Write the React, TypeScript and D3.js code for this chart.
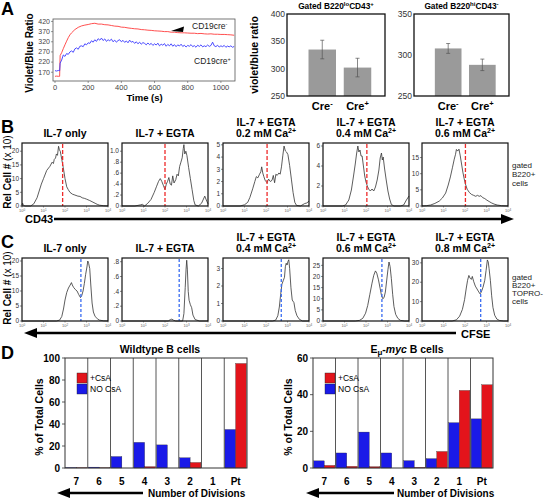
import React from "react";
import * as d3 from "d3";

const FONT = "'Liberation Sans', Arial, Helvetica, sans-serif";

// ---------------- Panel A : calcium flux ----------------
const fluxXTicks = [0, 200, 400, 600, 800, 1000];
const fluxYTicks = [170, 220, 270, 320, 370, 420];
const creNegFlux: [number, number][] = [
  [0,150],[10,151],[20,150],[28,150],[31,252],[40,266],[50,286],[60,305],[70,323],[80,340],[90,354],[100,364],[120,380],[140,391],[160,398],[180,402],[200,405],[220,409],[240,411],[260,407],[280,407],[300,404],[320,403],[340,400],[360,397],[380,396],[400,392],[420,391],[440,388],[460,386],[480,384],[500,383],[520,380],[540,379],[560,377],[580,376],[600,374],[620,373],[640,372],[660,370],[680,370],[700,367],[720,367],[740,365],[760,364],[780,364],[800,363],[820,362],[840,362],[860,360],[880,361],[900,359],[920,358],[940,359],[960,357],[980,357],[1000,356],[1020,356],[1040,355],[1060,354],[1080,352]
];
const crePosFlux: [number, number][] = [
  [0,178],[10,176],[20,179],[28,177],[31,215],[40,230],[50,255],[60,248],[70,262],[80,258],[90,270],[100,275],[110,268],[120,285],[130,290],[140,283],[150,298],[160,300],[170,296],[180,310],[190,305],[200,315],[210,312],[220,325],[230,318],[240,330],[250,322],[260,335],[270,328],[280,338],[290,326],[300,334],[310,322],[320,330],[330,325],[340,333],[350,320],[360,328],[370,318],[380,326],[390,330],[400,320],[410,327],[420,317],[430,324],[440,315],[450,328],[460,318],[470,322],[480,312],[490,320],[500,310],[510,318],[520,308],[530,316],[540,312],[550,305],[560,314],[570,306],[580,312],[590,302],[600,310],[610,304],[620,313],[630,300],[640,308],[650,303],[660,311],[670,298],[680,307],[690,300],[700,310],[710,298],[720,306],[730,296],[740,305],[750,299],[760,308],[770,297],[780,303],[790,294],[800,302],[810,298],[820,306],[830,296],[840,301],[850,293],[860,303],[870,297],[880,305],[890,295],[900,300],[910,296],[920,304],[930,297],[940,302],[950,318],[960,300],[970,296],[980,303],[990,294],[1000,300],[1010,296],[1020,302],[1030,293],[1040,299],[1050,295],[1060,300],[1070,293],[1080,297]
];

// ---------------- Panel A : ratio bars ----------------
const creCats = ["-", "+"];
const loMeans = [335, 302];
const loErrs = [17, 17];
const loTicks = [250, 300, 350, 400];
const hiMeans = [308, 288];
const hiErrs = [6, 7];
const hiTicks = [250, 300, 350];

// ---------------- Panel B : CD43 histograms ----------------
const bLine1 = ["IL-7 only", "IL-7 + EGTA", "IL-7 + EGTA", "IL-7 + EGTA", "IL-7 + EGTA"];
const bCa = [null, null, "0.2", "0.4", "0.6"];
const bMax = [23, 1.15, 5.15, 6.3, 19.5];
const bTicks = [[0,5,10,15,20],[0,0.2,0.4,0.6,0.8,1.0],[0,1,2,3,4,5],[0,2,4,6],[0,5,10,15]];
const bGate = [1.89, 2.0, 2.05, 2.04, 2.02];
const b1: [number, number][] = [[0,0.3],[0.03,1.0],[0.07,0.2],[0.15,0],[0.4,0],[0.55,0.8],[0.7,3],[0.9,8],[1.0,10],[1.15,13],[1.3,14.5],[1.4,16],[1.46,15.5],[1.5,17],[1.56,17.5],[1.6,19],[1.65,18.5],[1.7,21.8],[1.74,20.5],[1.78,20],[1.85,17],[1.92,14],[2.0,10],[2.08,7],[2.15,6],[2.23,5],[2.35,4.3],[2.46,4],[2.6,3.6],[2.7,3.5],[2.8,3],[2.9,2.8],[3.0,2.5],[3.15,2],[3.3,1.4],[3.4,1],[3.5,0.6],[3.6,0.3],[3.8,0.1],[4,0]];
const b2: [number, number][] = [[0,0],[0.6,0],[0.85,0.02],[0.95,0.03],[1.05,0],[1.2,0.05],[1.35,0.12],[1.5,0.25],[1.6,0.35],[1.7,0.45],[1.78,0.5],[1.85,0.45],[1.92,0.38],[2.0,0.3],[2.06,0.4],[2.12,0.45],[2.18,0.52],[2.24,0.4],[2.3,0.38],[2.36,0.55],[2.42,0.42],[2.5,0.48],[2.56,0.58],[2.62,0.55],[2.68,0.72],[2.74,0.8],[2.8,0.88],[2.85,1.05],[2.88,1.12],[2.92,0.95],[2.97,1.0],[3.02,0.92],[3.1,0.7],[3.18,0.5],[3.26,0.3],[3.34,0.1],[3.4,0.02],[3.55,0],[3.7,0.05],[3.85,0.18],[3.95,0.08],[4,0.04]];
const b3: [number, number][] = [[0,0],[0.8,0],[1.0,0.1],[1.15,0.3],[1.25,0.7],[1.38,1.4],[1.48,2.0],[1.55,2.4],[1.62,2.3],[1.7,2.6],[1.76,2.8],[1.8,3.2],[1.85,2.7],[1.9,2.4],[1.96,2.1],[2.05,1.9],[2.12,2.2],[2.2,2.0],[2.28,2.1],[2.34,2.5],[2.4,1.9],[2.46,2.6],[2.52,2.5],[2.6,2.7],[2.66,2.6],[2.72,3.2],[2.78,4.1],[2.84,4.9],[2.9,4.5],[2.96,4.4],[3.02,4.2],[3.1,3.3],[3.18,2.2],[3.26,1.1],[3.34,0.3],[3.42,0.05],[3.6,0],[3.8,0.2],[3.9,0.25],[4,0.4]];
const b4: [number, number][] = [[0,0],[0.9,0],[1.05,0.1],[1.2,0.6],[1.32,1.6],[1.42,3.0],[1.5,4.2],[1.56,5.2],[1.62,6.0],[1.67,5.4],[1.72,5.6],[1.77,5.0],[1.82,5.0],[1.88,4.0],[1.94,3.0],[2.0,2.4],[2.06,2.0],[2.12,1.7],[2.2,1.5],[2.28,1.7],[2.36,1.5],[2.44,1.9],[2.52,2.6],[2.6,3.6],[2.66,4.8],[2.72,5.3],[2.76,4.6],[2.8,4.9],[2.86,3.8],[2.94,2.6],[3.02,1.5],[3.1,0.7],[3.18,0.15],[3.3,0],[3.6,0],[3.75,0.1],[3.88,0.6],[4,1.0]];
const b5: [number, number][] = [[0,0],[0.2,0.1],[0.4,0.3],[0.6,0.8],[0.8,1.5],[0.95,2.5],[1.1,4],[1.22,6.5],[1.32,9],[1.42,12],[1.5,14.5],[1.56,16],[1.6,17.5],[1.66,17],[1.72,17.6],[1.78,15.5],[1.84,13],[1.9,10.5],[1.96,8.5],[2.02,6.8],[2.1,5.2],[2.2,4.2],[2.3,3.6],[2.4,3.3],[2.5,3.0],[2.58,3.3],[2.66,3.0],[2.74,3.2],[2.82,2.6],[2.92,2.3],[3.02,1.8],[3.12,1.4],[3.22,1.0],[3.35,0.6],[3.5,0.3],[3.7,0.1],[4,0]];
const bCurves = [b1, b2, b3, b4, b5];

// ---------------- Panel C : CFSE histograms ----------------
const cLine1 = ["IL-7 only", "IL-7 + EGTA", "IL-7 + EGTA", "IL-7 + EGTA", "IL-7 + EGTA"];
const cCa = [null, null, "0.4", "0.6", "0.8"];
const cMax = [21, 0.85, 3.6, 28.3, 32.5];
const cTicks = [[0,5,10,15,20],[0,0.2,0.4,0.6,0.8],[0,1,2,3],[0,5,10,15,20,25],[0,10,20,30]];
const cGate = [2.74, 2.66, 2.71, 2.74, 2.73];
const c1: [number, number][] = [[0,0],[1.6,0],[1.75,0.3],[1.85,1.5],[1.93,4],[2.0,7],[2.08,9.5],[2.16,11],[2.24,12],[2.3,12.8],[2.34,12],[2.4,11.2],[2.48,10.5],[2.56,10],[2.64,8.8],[2.72,7.8],[2.78,8.5],[2.84,10],[2.9,12.5],[2.96,15.5],[3.02,18],[3.06,20],[3.1,19.2],[3.15,17.5],[3.2,12],[3.26,6],[3.32,3],[3.4,1.5],[3.5,0.8],[3.6,0.3],[3.8,0.05],[4,0]];
const c2: [number, number][] = [[0,0],[2.15,0],[2.25,0.02],[2.32,0.025],[2.4,0.01],[2.5,0],[2.82,0],[2.88,0.1],[2.94,0.45],[2.98,0.7],[3.01,0.82],[3.04,0.7],[3.08,0.4],[3.12,0.28],[3.18,0.22],[3.24,0.18],[3.3,0.08],[3.4,0.02],[3.6,0],[4,0]];
const c3: [number, number][] = [[0,0],[2.3,0],[2.45,0.05],[2.55,0.3],[2.62,0.8],[2.68,1.5],[2.74,2.1],[2.8,2.3],[2.86,2.5],[2.9,3.1],[2.94,3.3],[2.98,3.2],[3.02,3.4],[3.06,3.5],[3.1,3.0],[3.16,1.9],[3.22,1.2],[3.3,1.05],[3.36,0.6],[3.44,0.3],[3.55,0.1],[3.7,0],[4,0]];
const c4: [number, number][] = [[0,0],[1.5,0],[1.7,0.3],[1.85,1.2],[1.98,3.5],[2.08,7],[2.18,12],[2.28,17],[2.36,20.5],[2.44,22.5],[2.5,21.5],[2.58,18.5],[2.66,14.5],[2.72,11.5],[2.78,10],[2.84,10.5],[2.9,13],[2.96,18],[3.02,23],[3.07,26.5],[3.12,24.5],[3.18,19],[3.24,12],[3.3,6.5],[3.38,3],[3.48,1.2],[3.6,0.3],[3.8,0],[4,0]];
const c5: [number, number][] = [[0,0],[1.4,0],[1.6,0.6],[1.75,2.5],[1.88,6],[1.98,11],[2.06,17],[2.12,21],[2.18,23.5],[2.24,22],[2.3,21.5],[2.34,23],[2.4,20.5],[2.48,18],[2.56,16.5],[2.64,15],[2.7,14],[2.76,15],[2.84,17.5],[2.92,21],[2.98,26],[3.04,31.5],[3.08,30.5],[3.12,27],[3.18,21],[3.24,13],[3.3,7],[3.38,3],[3.48,1],[3.6,0.3],[3.8,0],[4,0]];
const cCurves = [c1, c2, c3, c4, c5];
const decades = [0, 1, 2, 3, 4];

// ---------------- Panel D : divisions ----------------
const divCats = ["7", "6", "5", "4", "3", "2", "1", "Pt"];
const wtNoCsA = [0.4, 0.8, 10.4, 23.3, 21, 9.3, 0, 35];
const wtCsA = [0.3, 0.2, 0, 1.2, 0, 5, 0, 95];
const wtTicks = [0, 20, 40, 60, 80, 100];
const mycNoCsA = [3.9, 8.2, 19.6, 8.2, 4, 5.1, 24.7, 26.8];
const mycCsA = [1.4, 0.9, 0.7, 0, 0.3, 9, 42.3, 45.4];
const mycTicks = [0, 20, 40, 60];

const RED = "#e3141b";
const BLUE = "#1a1ae8";

function fmtTick(v: number, max: number) {
  if (max < 1.5) {
    if (v === 0) return "0";
    if (v >= 1) return v.toFixed(1);
    return v.toFixed(1).slice(1);
  }
  return String(v);
}

function Letter({ x, y, t }: { x: number; y: number; t: string }) {
  return (
    <text x={x} y={y} fontFamily={FONT} fontWeight="bold" fontSize={18}>{t}</text>
  );
}

function FluxChart() {
  const x0 = 53, x1 = 235, y0 = 19, y1 = 81;
  const x = d3.scaleLinear().domain([-12, 1085]).range([x0, x1]);
  const y = d3.scaleLinear().domain([127, 432]).range([y1, y0]);
  const line = d3.line<[number, number]>().x(d => x(d[0])).y(d => y(d[1]));
  return (
    <g fontFamily={FONT}>
      <path d={line(creNegFlux) || ""} fill="none" stroke="#ff3b3b" strokeWidth={0.9} />
      <path d={line(crePosFlux) || ""} fill="none" stroke="#3838ff" strokeWidth={0.9} />
      <rect x={x0} y={y0} width={x1 - x0} height={y1 - y0} fill="none" stroke="#555" strokeWidth={0.8} />
      {fluxYTicks.map(v => (
        <g key={v}>
          <line x1={x0 - 2} x2={x0} y1={y(v)} y2={y(v)} stroke="#555" strokeWidth={0.6} />
          <text x={x0 - 3} y={y(v) + 2.3} fontSize={7} fill="#444" textAnchor="end">{v}</text>
        </g>
      ))}
      {fluxXTicks.map(v => (
        <g key={v}>
          <line x1={x(v)} x2={x(v)} y1={y1} y2={y1 + 2} stroke="#555" strokeWidth={0.6} />
          <text x={x(v)} y={y1 + 8.5} fontSize={7.5} fill="#444" textAnchor="middle">{v}</text>
        </g>
      ))}
      <text x={x(540)} y={100.5} fontSize={9.5} fontWeight="bold" textAnchor="middle">Time (s)</text>
      <text transform={`translate(33,${(y0 + y1) / 2 + 3}) rotate(-90)`} fontSize={10} fontWeight="bold" textAnchor="middle">Violet/Blue Ratio</text>
      <polygon points="171,31 184,26.5 183,32" fill="#000" />
      <text x={192} y={29} fontSize={8.5} fill="#222">CD19cre<tspan dy={-3} fontSize={5.5}>-</tspan></text>
      <text x={194} y={64} fontSize={8.5} fill="#222">CD19cre<tspan dy={-3} fontSize={5.5}>+</tspan></text>
    </g>
  );
}

function RatioBars({ x0, x1, y0, y1, domain, ticks, means, errs, sup1, sup2 }:
  { x0: number; x1: number; y0: number; y1: number; domain: [number, number]; ticks: number[]; means: number[]; errs: number[]; sup1: string; sup2: string }) {
  const x = d3.scaleBand().domain(creCats).range([x0, x1]).paddingInner(0.22).paddingOuter(0.5).align(0.61);
  const y = d3.scaleLinear().domain(domain).range([y1, y0]);
  const bw = x.bandwidth();
  return (
    <g fontFamily={FONT}>
      {creCats.map((c, i) => {
        const cx = (x(c) as number) + bw / 2;
        return (
          <g key={c}>
            <rect x={x(c)} y={y(means[i])} width={bw} height={y1 - y(means[i])} fill="#9a9a9a" />
            <line x1={cx} x2={cx} y1={y(means[i] + errs[i])} y2={y(means[i] - errs[i])} stroke="#555" strokeWidth={0.7} />
            <line x1={cx - 2} x2={cx + 2} y1={y(means[i] + errs[i])} y2={y(means[i] + errs[i])} stroke="#555" strokeWidth={0.7} />
            <line x1={cx - 2} x2={cx + 2} y1={y(means[i] - errs[i])} y2={y(means[i] - errs[i])} stroke="#555" strokeWidth={0.7} />
            <text x={cx} y={y1 + 14} fontSize={11} fontWeight="bold" textAnchor="middle">Cre<tspan dy={-4} fontSize={7.5}>{c}</tspan></text>
          </g>
        );
      })}
      <rect x={x0} y={y0} width={x1 - x0} height={y1 - y0} fill="none" stroke="#111" strokeWidth={1.3} />
      {ticks.map(v => (
        <text key={v} x={x0 - 2} y={y(v) + 3} fontSize={8.5} fill="#333" textAnchor="end">{v}</text>
      ))}
      <text x={(x0 + x1) / 2} y={9} fontSize={8.3} fontWeight="bold" textAnchor="middle">
        Gated B220<tspan dy={-3} fontSize={6}>{sup1}</tspan><tspan dy={3}>CD43</tspan><tspan dy={-3} fontSize={6}>{sup2}</tspan>
      </text>
    </g>
  );
}

function Hist({ x0, y0, w, h, data, max, ticks, gate, gateColor, dash, line1, ca, t1y }:
  { x0: number; y0: number; w: number; h: number; data: [number, number][]; max: number; ticks: number[]; gate: number; gateColor: string; dash: string; line1: string; ca: string | null; t1y: number }) {
  const x = d3.scaleLinear().domain([0, 4]).range([x0, x0 + w]);
  const y = d3.scaleLinear().domain([0, max]).range([y0 + h, y0]);
  const line = d3.line<[number, number]>().x(d => x(d[0])).y(d => y(d[1]));
  const cx = x0 + w / 2;
  return (
    <g fontFamily={FONT}>
      <path d={line(data) || ""} fill="none" stroke="#333" strokeWidth={0.8} />
      <line x1={x(gate)} x2={x(gate)} y1={y0 + 1} y2={y0 + h} stroke={gateColor} strokeWidth={1.3} strokeDasharray={dash} />
      <rect x={x0} y={y0} width={w} height={h} fill="none" stroke="#111" strokeWidth={1.2} />
      {ticks.map(v => (
        <g key={v}>
          <line x1={x0 - 2} x2={x0} y1={y(v)} y2={y(v)} stroke="#333" strokeWidth={0.6} />
          <text x={x0 - 3} y={y(v) + 2.2} fontSize={6.5} fill="#333" textAnchor="end">{fmtTick(v, max)}</text>
        </g>
      ))}
      {decades.map(d => (
        <g key={d}>
          <line x1={x(d)} x2={x(d)} y1={y0 + h} y2={y0 + h + 1.5} stroke="#333" strokeWidth={0.5} />
          <text x={x(d)} y={y0 + h + 6} fontSize={4} fill="#666" textAnchor="middle">10<tspan dy={-1.5} fontSize={3}>{d}</tspan></text>
        </g>
      ))}
      {ca === null ? (
        <text x={cx} y={t1y + 11} fontSize={10.5} fontWeight="bold" textAnchor="middle">{line1}</text>
      ) : (
        <g>
          <text x={cx} y={t1y} fontSize={10.5} fontWeight="bold" textAnchor="middle">{line1}</text>
          <text x={cx} y={t1y + 11} fontSize={10.5} fontWeight="bold" textAnchor="middle">{ca} mM Ca<tspan dy={-4} fontSize={7}>2+</tspan></text>
        </g>
      )}
    </g>
  );
}

function RelLabel({ cy }: { cy: number }) {
  return (
    <text transform={`translate(11,${cy}) rotate(-90)`} fontFamily={FONT} fontSize={10} textAnchor="middle">
      <tspan fontWeight="bold">Rel Cell #</tspan> (x 10)
    </text>
  );
}

function Arrow({ tipX, tailX, y, dir }: { tipX: number; tailX: number; y: number; dir: number }) {
  const headLen = 13;
  const baseX = tipX - dir * headLen;
  return (
    <g>
      <line x1={tailX} x2={baseX} y1={y} y2={y} stroke="#000" strokeWidth={2.4} />
      <polygon points={`${tipX},${y} ${baseX},${y - 5} ${baseX},${y + 5}`} fill="#000" />
    </g>
  );
}

function DivChart({ x0, x1, y0, y1, max, ticks, blue, red, title, ylabX, legendX, tipX, tailX, textX }:
  { x0: number; x1: number; y0: number; y1: number; max: number; ticks: number[]; blue: number[]; red: number[]; title: React.ReactNode; ylabX: number; legendX: number; tipX: number; tailX: number; textX: number }) {
  const x = d3.scaleBand().domain(divCats).range([x0, x1]);
  const inner = d3.scaleBand().domain(["blue", "red"]).range([0, x.bandwidth()]).paddingOuter(0.06);
  const y = d3.scaleLinear().domain([0, max]).range([y1, y0]);
  const bw = inner.bandwidth();
  return (
    <g fontFamily={FONT}>
      {divCats.map((c, i) => (
        <g key={c}>
          <rect x={(x(c) as number) + (inner("blue") as number)} y={y(blue[i])} width={bw} height={y1 - y(blue[i])} fill={BLUE} stroke="#222" strokeWidth={0.3} />
          <rect x={(x(c) as number) + (inner("red") as number)} y={y(red[i])} width={bw} height={y1 - y(red[i])} fill={RED} stroke="#222" strokeWidth={0.3} />
          {i > 0 && <line x1={x(c)} x2={x(c)} y1={y0} y2={y1} stroke="#444" strokeWidth={0.9} />}
          <text x={(x(c) as number) + x.bandwidth() / 2} y={y1 + 17} fontSize={10} fontWeight="bold" textAnchor="middle">{c}</text>
        </g>
      ))}
      <rect x={x0} y={y0} width={x1 - x0} height={y1 - y0} fill="none" stroke="#333" strokeWidth={1} />
      {ticks.map(v => (
        <g key={v}>
          <line x1={x0 - 3} x2={x0} y1={y(v)} y2={y(v)} stroke="#333" strokeWidth={0.8} />
          <text x={x0 - 5} y={y(v) + 3.5} fontSize={10} fontWeight="bold" textAnchor="end">{v}</text>
        </g>
      ))}
      <text x={(x0 + x1) / 2 + 4} y={y0 - 5} fontSize={10.5} fontWeight="bold" textAnchor="middle">{title}</text>
      <text transform={`translate(${ylabX},${(y0 + y1) / 2 + 4}) rotate(-90)`} fontSize={10.5} fontWeight="bold" textAnchor="middle">% of Total Cells</text>
      <rect x={legendX} y={373} width={10} height={10} fill={RED} stroke="#222" strokeWidth={0.4} />
      <rect x={legendX} y={384} width={10} height={10} fill={BLUE} stroke="#222" strokeWidth={0.4} />
      <text x={legendX + 13} y={381} fontSize={8.5}>+CsA</text>
      <text x={legendX + 13} y={392} fontSize={8.5}>NO CsA</text>
      <Arrow tipX={tipX} tailX={tailX} y={493} dir={-1} />
      <text x={textX} y={497} fontSize={10} fontWeight="bold">Number of Divisions</text>
    </g>
  );
}

export default function App() {
  const histX0 = [22, 122, 223, 323, 422];
  return (
    <svg width={545} height={500} style={{ position: "absolute", left: 0, top: 0, background: "#fff" }}>
      <rect x={0} y={0} width={545} height={500} fill="#fff" />
      {/* A */}
      <Letter x={1} y={15} t="A" />
      <FluxChart />
      <text transform={`translate(258,55) rotate(-90)`} fontFamily={FONT} fontSize={10.5} fontWeight="bold" textAnchor="middle">violet/blue ratio</text>
      <RatioBars x0={287} x1={385} y0={14} y1={96} domain={[250, 400]} ticks={loTicks} means={loMeans} errs={loErrs} sup1="lo" sup2="+" />
      <RatioBars x0={414} x1={509} y0={14} y1={96} domain={[250, 350]} ticks={hiTicks} means={hiMeans} errs={hiErrs} sup1="hi" sup2="-" />

      {/* B */}
      <Letter x={1} y={133} t="B" />
      <RelLabel cy={172} />
      {bCurves.map((d, i) => (
        <Hist key={i} x0={histX0[i]} y0={143} w={86} h={63} data={d} max={bMax[i]} ticks={bTicks[i]} gate={bGate[i]} gateColor="#ee2a2a" dash="4,2" line1={bLine1[i]} ca={bCa[i]} t1y={126} />
      ))}
      <text x={25} y={223} fontFamily={FONT} fontSize={11} fontWeight="bold">CD43</text>
      <Arrow tipX={514} tailX={54} y={219} dir={1} />
      <g fontFamily={FONT} fontSize={8} fill="#222">
        <text x={512} y={168}>gated</text>
        <text x={512} y={177}>B220+</text>
        <text x={512} y={186}>cells</text>
      </g>

      {/* C */}
      <Letter x={1} y={248} t="C" />
      <RelLabel cy={288} />
      {cCurves.map((d, i) => (
        <Hist key={i} x0={histX0[i]} y0={258} w={86} h={63} data={d} max={cMax[i]} ticks={cTicks[i]} gate={cGate[i]} gateColor="#3a6cf0" dash="3,2" line1={cLine1[i]} ca={cCa[i]} t1y={241} />
      ))}
      <Arrow tipX={24} tailX={456} y={333} dir={-1} />
      <text x={461} y={338} fontFamily={FONT} fontSize={11} fontWeight="bold">CFSE</text>
      <g fontFamily={FONT} fontSize={8} fill="#222">
        <text x={512} y={280}>gated</text>
        <text x={512} y={288}>B220+</text>
        <text x={512} y={296}>TOPRO-</text>
        <text x={512} y={304}>cells</text>
      </g>

      {/* D */}
      <Letter x={1} y={359} t="D" />
      <DivChart x0={65} x1={247} y0={358} y1={468} max={100} ticks={wtTicks} blue={wtNoCsA} red={wtCsA}
        title={"Wildtype B cells"} ylabX={43} legendX={77} tipX={57} tailX={143} textX={148} />
      <DivChart x0={313} x1={493} y0={358} y1={468} max={60} ticks={mycTicks} blue={mycNoCsA} red={mycCsA}
        title={<tspan>E<tspan dy={2} fontSize={8}>μ</tspan><tspan dy={-2}>-</tspan><tspan fontStyle="italic">myc</tspan> B cells</tspan>}
        ylabX={292} legendX={325} tipX={306} tailX={394} textX={397} />
    </svg>
  );
}
